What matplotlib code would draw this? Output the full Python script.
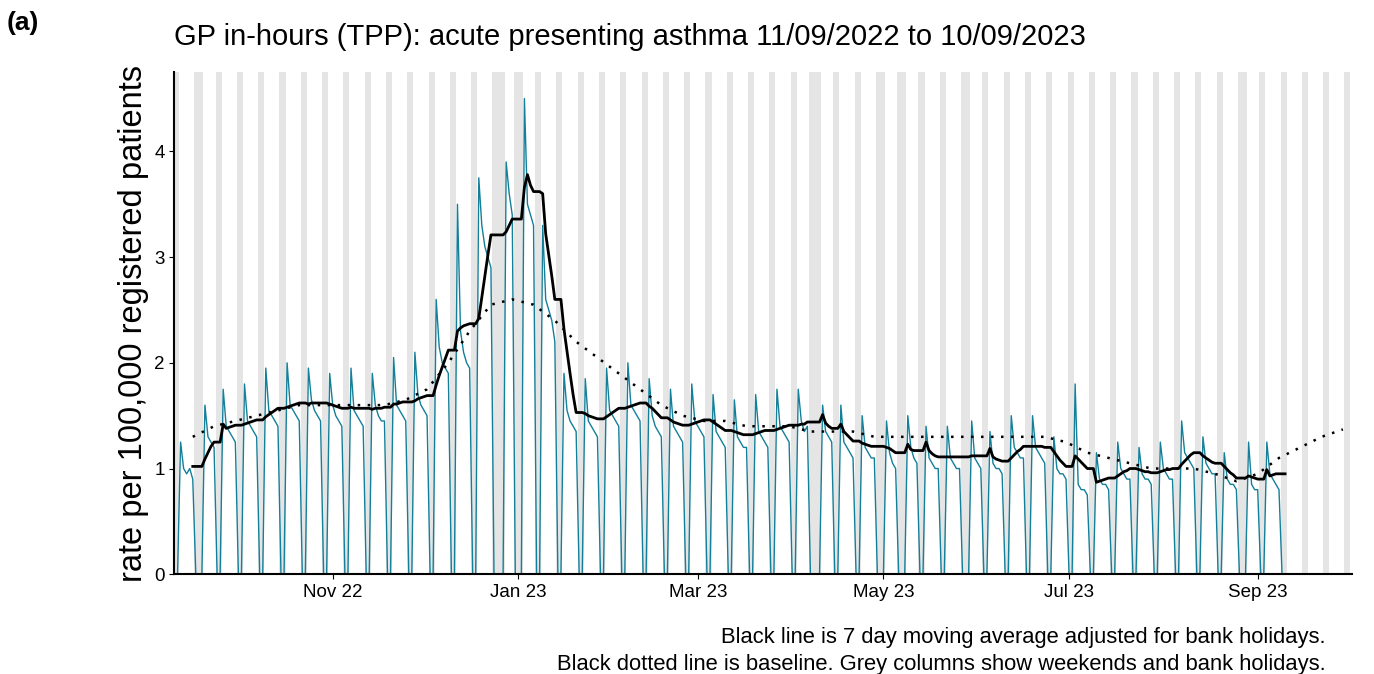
import datetime as dt
import numpy as np
import pandas as pd
import matplotlib
matplotlib.use("Agg")
import matplotlib.pyplot as plt
import matplotlib.dates as mdates

plt.rcParams['font.family'] = ['Liberation Sans', 'DejaVu Sans']

# Weekday (Mon-Fri) rates per week, weeks starting Monday 12/09/2022; 0 = bank holiday
week_start = "2022-09-12"
weekday_rates = [
    [1.25, 1.0, 0.95, 1.0, 0.9], [0, 1.6, 1.3, 1.25, 1.2], [1.75, 1.4, 1.35, 1.3, 1.25],
    [1.8, 1.45, 1.4, 1.35, 1.3], [1.95, 1.55, 1.5, 1.45, 1.4], [2.0, 1.6, 1.55, 1.5, 1.45],
    [1.95, 1.65, 1.55, 1.5, 1.45], [1.9, 1.6, 1.5, 1.45, 1.4], [1.95, 1.55, 1.5, 1.45, 1.4],
    [1.9, 1.6, 1.5, 1.45, 1.45], [2.05, 1.6, 1.55, 1.5, 1.45], [2.1, 1.7, 1.6, 1.55, 1.5],
    [2.6, 2.15, 2.0, 1.95, 1.9], [3.5, 2.3, 2.1, 2.0, 1.95], [3.75, 3.3, 3.1, 3.0, 2.9],
    [0, 0, 3.9, 3.6, 3.4], [0, 4.5, 3.5, 3.4, 3.3], [3.3, 2.6, 2.5, 2.4, 2.2],
    [1.9, 1.55, 1.45, 1.4, 1.35], [1.85, 1.45, 1.4, 1.35, 1.3], [1.95, 1.55, 1.5, 1.45, 1.4],
    [2.0, 1.6, 1.55, 1.5, 1.45], [1.85, 1.5, 1.4, 1.35, 1.3], [1.75, 1.4, 1.35, 1.3, 1.25],
    [1.8, 1.45, 1.4, 1.35, 1.3], [1.7, 1.35, 1.3, 1.25, 1.2], [1.65, 1.3, 1.25, 1.2, 1.2],
    [1.7, 1.35, 1.3, 1.25, 1.2], [1.75, 1.4, 1.35, 1.3, 1.25], [1.75, 1.45, 1.35, 1.4, 0],
    [0, 1.6, 1.35, 1.3, 1.25], [1.6, 1.25, 1.2, 1.15, 1.1], [1.5, 1.2, 1.15, 1.1, 1.1],
    [0, 1.45, 1.15, 1.05, 1.0], [0, 1.5, 1.2, 1.1, 1.05], [1.4, 1.1, 1.05, 1.0, 1.0],
    [1.4, 1.1, 1.05, 1.0, 1.0], [0, 1.45, 1.1, 1.05, 1.0], [1.35, 1.05, 1.0, 1.0, 0.95],
    [1.5, 1.2, 1.15, 1.1, 1.1], [1.5, 1.2, 1.15, 1.1, 1.05], [1.3, 1.0, 0.95, 0.95, 0.9],
    [1.8, 0.85, 0.8, 0.8, 0.75], [1.15, 0.9, 0.85, 0.85, 0.8], [1.25, 1.0, 0.95, 0.9, 0.9],
    [1.2, 0.95, 0.9, 0.9, 0.85], [1.25, 1.0, 0.95, 0.9, 0.9], [1.45, 1.15, 1.1, 1.05, 1.0],
    [1.3, 1.05, 1.0, 0.95, 0.95], [1.15, 0.9, 0.85, 0.85, 0.8], [0, 1.25, 0.85, 0.8, 0.8],
    [1.25, 0.95, 0.9, 0.85, 0.8],
]
bank_holidays = ["2022-09-19", "2022-12-26", "2022-12-27", "2023-01-02", "2023-04-07",
                 "2023-04-10", "2023-05-01", "2023-05-08", "2023-05-29", "2023-08-28"]

# Weekly baseline values (from week starting 12/09/2022)
baseline = [1.3, 1.4, 1.45, 1.5, 1.55, 1.6, 1.6, 1.6, 1.6, 1.6, 1.65, 1.75, 2.0, 2.3, 2.55,
            2.6, 2.55, 2.4, 2.2, 2.05, 1.9, 1.75, 1.6, 1.5, 1.45, 1.45, 1.4, 1.4, 1.4, 1.35,
            1.35, 1.35, 1.3, 1.3, 1.3, 1.3, 1.3, 1.3, 1.3, 1.3, 1.3, 1.25, 1.15, 1.1, 1.05,
            1.0, 1.0, 1.0, 0.95, 0.88, 0.95, 1.1, 1.2, 1.3, 1.37]

# daily series, weekends zero
start = pd.Timestamp(week_start)
days, vals = [], []
for w, week in enumerate(weekday_rates):
    for d in range(7):
        days.append(start + pd.Timedelta(days=7 * w + d))
        vals.append(week[d] if d < 5 else 0.0)
daily = pd.Series(vals, index=pd.DatetimeIndex(days))
daily = pd.concat([pd.Series([0.0], index=[pd.Timestamp("2022-09-11")]), daily])

hol = pd.to_datetime(bank_holidays)
working = daily[(daily.index.dayofweek < 5) & (~daily.index.isin(hol))]
ma = working.rolling(5).mean().reindex(daily.index).ffill().dropna()

base_dates = [start + pd.Timedelta(days=7 * i + 4) for i in range(len(baseline))]

fig = plt.figure(figsize=(13.74, 6.74), dpi=100)
ax = fig.add_axes([0.127, 0.148, 0.857, 0.745])

x0, x1 = pd.Timestamp("2022-09-10"), pd.Timestamp("2023-10-02")
for d in pd.date_range(x0, x1):
    if d.dayofweek >= 5 or d in hol:
        ax.axvspan(d - pd.Timedelta(hours=12), d + pd.Timedelta(hours=12),
                   color="#e5e5e5", lw=0, zorder=0)

ax.plot(daily.index, daily.values, color="#137f99", lw=1, zorder=2)
ax.plot(ma.index, ma.values, color="black", lw=2, zorder=3)
ax.plot(base_dates, baseline, color="black", lw=1.8, ls=(0, (1, 3)), zorder=3)

ax.set_xlim(x0, x1)
ax.set_ylim(0, 4.75)
ax.set_yticks([0, 1, 2, 3, 4])
ax.xaxis.set_major_locator(mdates.MonthLocator(bymonth=[1, 3, 5, 7, 9, 11]))
ax.xaxis.set_major_formatter(mdates.DateFormatter("%b %y"))
ax.tick_params(labelsize=13.5)
for s in ["top", "right"]:
    ax.spines[s].set_visible(False)
for s in ["left", "bottom"]:
    ax.spines[s].set_linewidth(1.5)
ax.set_ylabel("rate per 100,000 registered patients", fontsize=23.5)

fig.text(0.127, 0.925, "GP in-hours (TPP): acute presenting asthma 11/09/2022 to 10/09/2023",
         fontsize=21, va="bottom")
fig.text(0.005, 0.955, "(a)", fontsize=19, fontweight="bold")
fig.text(0.965, 0.046, "Black line is 7 day moving average adjusted for bank holidays.",
         fontsize=15.8, ha="right")
fig.text(0.965, 0.006, "Black dotted line is baseline. Grey columns show weekends and bank holidays.",
         fontsize=15.8, ha="right")

fig.savefig("out.png", dpi=100)
